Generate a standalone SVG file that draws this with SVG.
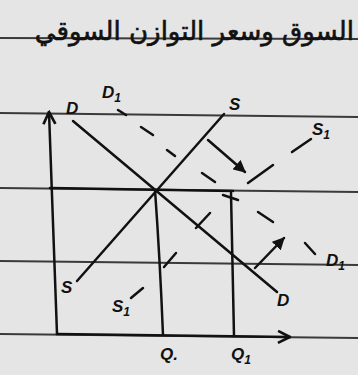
<svg xmlns="http://www.w3.org/2000/svg" width="358" height="375" viewBox="0 0 358 375">
<defs>
<style>
.rule{stroke:#3a3a3a;stroke-width:2;fill:none}
.ink{stroke:#111;stroke-width:2.5;fill:none;stroke-linecap:round}
.dash{stroke:#111;stroke-width:2.5;stroke-linecap:round}
.lbl{font-family:"Liberation Sans",Arial,sans-serif;font-size:17px;font-style:italic;font-weight:bold;fill:#111}
.head{font-family:"DejaVu Sans","Noto Sans",sans-serif;font-size:26px;fill:#111;stroke:#111;stroke-width:0.6}
</style>
<marker id="ah" viewBox="0 0 10 10" refX="9" refY="5" markerWidth="5" markerHeight="5" orient="auto">
<path d="M0,0 L10,5 L0,10 z" fill="#111"/>
</marker>
<marker id="ax" viewBox="0 0 10 10" refX="9" refY="5" markerWidth="6" markerHeight="6" orient="auto">
<path d="M1,1 L9,5 L1,9" fill="none" stroke="#111" stroke-width="1.8"/>
</marker>
</defs>
<rect width="358" height="375" fill="#e5e5e5"/>
<g id="ruled-lines">
<line class="rule" x1="0" y1="38" x2="358" y2="39"/>
<line class="rule" x1="0" y1="113" x2="358" y2="117"/>
<line class="rule" x1="0" y1="188" x2="358" y2="192"/>
<line class="rule" x1="0" y1="261" x2="358" y2="265"/>
<line class="rule" x1="0" y1="334" x2="358" y2="338"/>
</g>
<g id="heading">
<text class="head" x="354" y="40" direction="rtl" text-anchor="start">السوق وسعر التوازن السوقي</text>
</g>
<g id="axes">
<path class="ink" d="M57,334 L49,112" marker-end="url(#ax)"/>
<path class="ink" d="M57,334 L290,337" marker-end="url(#ax)"/>
</g>
<g id="connectors">
<line class="ink" x1="50" y1="188" x2="233" y2="191"/>
<path class="ink" d="M155,190 Q160,260 163,335"/>
<path class="ink" d="M231,193 L234,336"/>
<line class="ink" x1="73" y1="121" x2="277" y2="292"/>
<line class="ink" x1="77" y1="281" x2="224" y2="114"/>
<g id="S1">
<line class="dash" x1="131" y1="298" x2="143" y2="288"/>
<line class="dash" x1="164" y1="267" x2="176" y2="253"/>
<line class="dash" x1="196" y1="228" x2="210" y2="213"/>
<line class="dash" x1="248" y1="183" x2="273" y2="165"/>
<line class="dash" x1="292" y1="152" x2="311" y2="139"/>
</g>
<g id="D1">
<line class="dash" x1="118" y1="110" x2="126" y2="115"/>
<line class="dash" x1="141" y1="127" x2="153" y2="135"/>
<line class="dash" x1="167" y1="150" x2="175" y2="156"/>
<line class="dash" x1="202" y1="173" x2="215" y2="182"/>
<line class="dash" x1="223" y1="195" x2="238" y2="200"/>
<line class="dash" x1="258" y1="212" x2="273" y2="222"/>
<line class="dash" x1="305" y1="243" x2="315" y2="254"/>
</g>
<line class="ink" x1="208" y1="140" x2="245" y2="172" stroke-width="3" marker-end="url(#ah)"/>
<line class="ink" x1="255" y1="268" x2="284" y2="238" stroke-width="3" marker-end="url(#ah)"/>
</g>
<g id="labels">
<text class="lbl" x="66" y="114">D</text>
<text class="lbl" x="102" y="98">D<tspan font-size="12" dy="4">1</tspan></text>
<text class="lbl" x="229" y="110">S</text>
<text class="lbl" x="312" y="135">S<tspan font-size="12" dy="4">1</tspan></text>
<text class="lbl" x="61" y="293">S</text>
<text class="lbl" x="112" y="312">S<tspan font-size="12" dy="4">1</tspan></text>
<text class="lbl" x="277" y="306">D</text>
<text class="lbl" x="326" y="266">D<tspan font-size="12" dy="4">1</tspan></text>
<text class="lbl" x="160" y="360">Q.</text>
<text class="lbl" x="231" y="360">Q<tspan font-size="12" dy="4">1</tspan></text>
</g>
</svg>
